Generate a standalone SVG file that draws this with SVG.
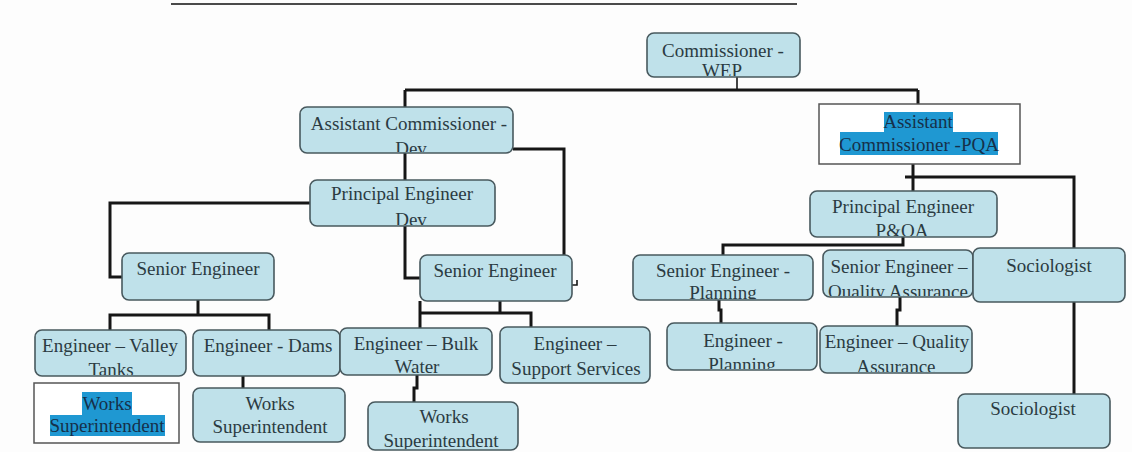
<svg xmlns="http://www.w3.org/2000/svg" width="1132" height="452" viewBox="0 0 1132 452">
  <style>
    .box { fill: #bfe1ea; stroke: #48595e; stroke-width: 1.6; }
    .wbox { fill: #ffffff; stroke: #555555; stroke-width: 1.5; }
    .t, .th { font-family: "Liberation Serif", Tinos, "Times New Roman", "DejaVu Serif", "Noto Serif", serif; font-size: 19px; text-anchor: middle; }
    .t { fill: #2b3b42; }
    .th { fill: #16304a; }
    .hl { fill: #1f98d2; }
    .conn path { fill: none; stroke: #161616; stroke-width: 3; }
    .conn .thin { stroke-width: 1.6; }
  </style>
  <defs>
    <!-- clip areas that cut the second line of a label at the box edge -->
    <clipPath id="c-comm" clipPathUnits="userSpaceOnUse"><rect x="647" y="33" width="153" height="43"/></clipPath>
    <clipPath id="c-acdev" clipPathUnits="userSpaceOnUse"><rect x="300" y="107" width="213" height="45"/></clipPath>
    <clipPath id="c-pedev" clipPathUnits="userSpaceOnUse"><rect x="310" y="180" width="185" height="45"/></clipPath>
    <clipPath id="c-valley" clipPathUnits="userSpaceOnUse"><rect x="35" y="330" width="151" height="45"/></clipPath>
    <clipPath id="c-bulk" clipPathUnits="userSpaceOnUse"><rect x="340" y="328" width="152" height="46"/></clipPath>
    <clipPath id="c-ws3" clipPathUnits="userSpaceOnUse"><rect x="368" y="402" width="150" height="47"/></clipPath>
    <clipPath id="c-pepqa" clipPathUnits="userSpaceOnUse"><rect x="810" y="191" width="187" height="45"/></clipPath>
    <clipPath id="c-seplan" clipPathUnits="userSpaceOnUse"><rect x="633" y="255" width="180" height="44"/></clipPath>
    <clipPath id="c-seqa" clipPathUnits="userSpaceOnUse"><rect x="823" y="250" width="150" height="46"/></clipPath>
    <clipPath id="c-engplan" clipPathUnits="userSpaceOnUse"><rect x="667" y="323" width="150" height="46"/></clipPath>
    <clipPath id="c-engqa" clipPathUnits="userSpaceOnUse"><rect x="820" y="326" width="152" height="46"/></clipPath>
  </defs>

  <rect x="0" y="0" width="1132" height="452" fill="#fdfdfd"/>

  <!-- rule across the top of the page -->
  <line x1="171" y1="4" x2="797" y2="4" stroke="#4a4a4a" stroke-width="2"/>

  <g class="conn" id="connectors">
    <path class="thin" d="M737,77 V90"/>
    <path d="M405,90 H918"/>
    <path d="M405,90 V107"/>
    <path d="M918,90 V104"/>
    <path d="M405,153 V180"/>
    <path d="M513,149 H564 V255"/>
    <path class="thin" d="M572,285 H577 V280"/>
    <path d="M310,203 H110 V277 H122"/>
    <path d="M405,226 V278 H420"/>
    <path d="M198,300 V315"/>
    <path d="M110,330 V315 H269 V330"/>
    <path d="M243,376 V388"/>
    <path d="M500,301 V313"/>
    <path d="M420,301 V328"/>
    <path d="M420,313 H531 V327"/>
    <path d="M417,375 V388 H414 V402"/>
    <path d="M913,164 V191"/>
    <path d="M905,177 H1074 V248"/>
    <path d="M1074,302 V394"/>
    <path d="M903,237 V245 H723 V255"/>
    <path d="M719,300 V310 H721 V323"/>
    <path d="M900,297 V310 H897 V326"/>
  </g>

  <g id="n-commissioner">
    <rect class="box" x="647" y="33" width="153" height="44" rx="7"/>
    <g clip-path="url(#c-comm)">
      <text class="t" x="723" y="57">Commissioner -</text>
      <text class="t" x="722" y="77">WEP</text>
    </g>
  </g>

  <g id="n-ac-dev">
    <rect class="box" x="300" y="107" width="213" height="46" rx="7"/>
    <g clip-path="url(#c-acdev)">
      <text class="t" x="409" y="130">Assistant Commissioner -</text>
      <text class="t" x="411" y="155">Dev</text>
    </g>
  </g>

  <g id="n-ac-pqa">
    <rect class="wbox" x="819" y="104" width="201" height="60"/>
    <rect class="hl" x="884" y="112" width="69" height="21"/>
    <rect class="hl" x="840" y="132" width="158" height="23"/>
    <text class="th" x="918" y="128">Assistant</text>
    <text class="th" x="919" y="151">Commissioner -PQA</text>
  </g>

  <g id="n-pe-dev">
    <rect class="box" x="310" y="180" width="185" height="46" rx="7"/>
    <g clip-path="url(#c-pedev)">
      <text class="t" x="402" y="200">Principal Engineer</text>
      <text class="t" x="411" y="226">Dev</text>
    </g>
  </g>

  <g id="n-pe-pqa">
    <rect class="box" x="810" y="191" width="187" height="46" rx="7"/>
    <g clip-path="url(#c-pepqa)">
      <text class="t" x="903" y="213">Principal Engineer</text>
      <text class="t" x="902" y="237">P&amp;QA</text>
    </g>
  </g>

  <g id="n-se-1">
    <rect class="box" x="122" y="253" width="152" height="47" rx="7"/>
    <text class="t" x="198" y="275">Senior Engineer</text>
  </g>

  <g id="n-se-2">
    <rect class="box" x="420" y="255" width="152" height="46" rx="7"/>
    <text class="t" x="495" y="277">Senior Engineer</text>
  </g>

  <g id="n-se-planning">
    <rect class="box" x="633" y="255" width="180" height="45" rx="7"/>
    <g clip-path="url(#c-seplan)">
      <text class="t" x="723" y="277">Senior Engineer -</text>
      <text class="t" x="723" y="299">Planning</text>
    </g>
  </g>

  <g id="n-se-qa">
    <rect class="box" x="823" y="250" width="150" height="47" rx="7"/>
    <g clip-path="url(#c-seqa)">
      <text class="t" x="899" y="273">Senior Engineer –</text>
      <text class="t" x="898" y="298">Quality Assurance</text>
    </g>
  </g>

  <g id="n-sociologist-1">
    <rect class="box" x="973" y="248" width="152" height="54" rx="7"/>
    <text class="t" x="1049" y="272">Sociologist</text>
  </g>

  <g id="n-eng-valley">
    <rect class="box" x="35" y="330" width="151" height="46" rx="7"/>
    <g clip-path="url(#c-valley)">
      <text class="t" x="110" y="352">Engineer – Valley</text>
      <text class="t" x="111" y="376">Tanks</text>
    </g>
  </g>

  <g id="n-eng-dams">
    <rect class="box" x="193" y="330" width="147" height="46" rx="7"/>
    <text class="t" x="268" y="352">Engineer - Dams</text>
  </g>

  <g id="n-eng-bulk">
    <rect class="box" x="340" y="328" width="152" height="47" rx="7"/>
    <g clip-path="url(#c-bulk)">
      <text class="t" x="416" y="350">Engineer – Bulk</text>
      <text class="t" x="417" y="373">Water</text>
    </g>
  </g>

  <g id="n-eng-support">
    <rect class="box" x="500" y="327" width="150" height="56" rx="7"/>
    <text class="t" x="575" y="350">Engineer –</text>
    <text class="t" x="576" y="375">Support Services</text>
  </g>

  <g id="n-eng-planning">
    <rect class="box" x="667" y="323" width="150" height="47" rx="7"/>
    <g clip-path="url(#c-engplan)">
      <text class="t" x="743" y="347">Engineer -</text>
      <text class="t" x="742" y="371">Planning</text>
    </g>
  </g>

  <g id="n-eng-qa">
    <rect class="box" x="820" y="326" width="152" height="47" rx="7"/>
    <g clip-path="url(#c-engqa)">
      <text class="t" x="897" y="348">Engineer – Quality</text>
      <text class="t" x="896" y="373">Assurance</text>
    </g>
  </g>

  <g id="n-works-1">
    <rect class="wbox" x="34" y="383" width="145" height="60"/>
    <rect class="hl" x="82" y="392" width="50" height="23"/>
    <rect class="hl" x="50" y="415" width="115" height="21"/>
    <text class="th" x="107" y="410">Works</text>
    <text class="th" x="107" y="432">Superintendent</text>
  </g>

  <g id="n-works-2">
    <rect class="box" x="193" y="388" width="152" height="54" rx="7"/>
    <text class="t" x="270" y="410">Works</text>
    <text class="t" x="270" y="433">Superintendent</text>
  </g>

  <g id="n-works-3">
    <rect class="box" x="368" y="402" width="150" height="48" rx="7"/>
    <g clip-path="url(#c-ws3)">
      <text class="t" x="444" y="423">Works</text>
      <text class="t" x="441" y="447">Superintendent</text>
    </g>
  </g>

  <g id="n-sociologist-2">
    <rect class="box" x="958" y="394" width="152" height="54" rx="7"/>
    <text class="t" x="1033" y="415">Sociologist</text>
  </g>
</svg>
